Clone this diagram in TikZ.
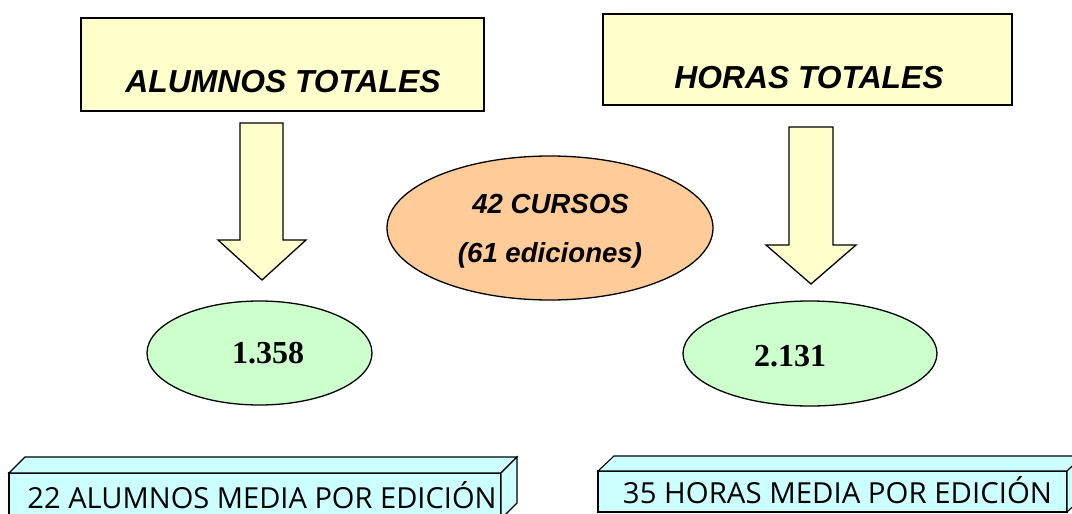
\documentclass[tikz,border=0pt]{standalone}
\usepackage{fontspec}
\usepackage{graphicx}
\setmainfont{Liberation Sans}
\newfontfamily\serifbold{Liberation Serif}
\newfontfamily\handfont{Open Sans}
\usetikzlibrary{shapes.geometric}
\definecolor{paleyellow}{HTML}{FFFFCC}
\definecolor{paleorange}{HTML}{FFCC99}
\definecolor{palegreen}{HTML}{CCFFCC}
\definecolor{palecyan}{HTML}{CCFFFF}
\tikzset{
  outline/.style={draw=black, line width=1.3pt, line join=miter},
  titlebox/.style={outline, fill=paleyellow, rectangle, inner sep=0pt},
  bigarrow/.style={outline, fill=paleyellow},
  oval/.style={outline, ellipse, inner sep=0pt},
  titletext/.style={anchor=base, inner sep=0pt, font=\fontsize{31.8}{32}\selectfont\bfseries\itshape},
  centertext/.style={anchor=base, inner sep=0pt, font=\fontsize{27.6}{28}\selectfont\bfseries\itshape},
  numtext/.style={anchor=base, inner sep=0pt, font=\fontsize{32}{32}\selectfont\serifbold\bfseries},
  slab/.style={outline, fill=palecyan, line width=1.1pt},
  slabtext/.style={anchor=base, inner sep=0pt, font=\handfont\fontsize{29}{29}\selectfont}
}
\begin{document}
\begin{tikzpicture}[x=1pt, y=-1pt]
\useasboundingbox (0,0) rectangle (1072,514);
\clip (0,0) rectangle (1072,514);
% title boxes
\node[titlebox, minimum width=403pt, minimum height=93pt] (boxA) at (282.5,64.5) {};
\node[titletext] (txtA) at (283,92) {ALUMNOS TOTALES};
\node[titlebox, minimum width=409pt, minimum height=91pt] (boxH) at (807.5,59.5) {};
\node[titletext] (txtH) at (809,88) {HORAS TOTALES};
% block arrows
\draw[bigarrow] (240,123) -- (283,123) -- (283,240) -- (306,240) -- (262,280) -- (218,240) -- (240,240) -- cycle;
\draw[bigarrow] (789,127) -- (833,127) -- (833,245) -- (856,245) -- (811,284) -- (766,245) -- (789,245) -- cycle;
% centre ellipse
\node[oval, fill=paleorange, minimum width=326pt, minimum height=144pt] (cursos) at (550,228) {};
\node[centertext] (t42) at (550.5,213) {42 CURSOS};
\node[centertext] (t61) at (550,262) {(61 ediciones)};
% green ellipses
\node[oval, fill=palegreen, minimum width=225pt, minimum height=104pt] (ovA) at (259.5,353) {};
\node[numtext] (nA) at (268,363) {1.358};
\node[oval, fill=palegreen, minimum width=254pt, minimum height=105pt] (ovH) at (810,353.5) {};
\node[numtext] (nH) at (790,366) {2.131};
% 3D slabs
\draw[slab] (9,473) -- (501,473) -- (501,519) -- (9,519) -- cycle;
\draw[slab] (9,473) -- (25,457) -- (517,457) -- (501,473) -- cycle;
\draw[slab] (501,473) -- (517,457) -- (517,503) -- (501,519) -- cycle;
\node[slabtext] (sA) at (262,508) {\resizebox{469pt}{\height}{22 ALUMNOS MEDIA POR EDICIÓN}};
\draw[slab] (598,471) -- (1067,471) -- (1067,512) -- (598,512) -- cycle;
\draw[slab] (598,471) -- (614,456) -- (1083,456) -- (1067,471) -- cycle;
\draw[slab] (1067,471) -- (1083,456) -- (1083,497) -- (1067,512) -- cycle;
\node[slabtext] (sH) at (837.5,503) {\resizebox{429pt}{\height}{35 HORAS MEDIA POR EDICIÓN}};
\end{tikzpicture}
\end{document}
